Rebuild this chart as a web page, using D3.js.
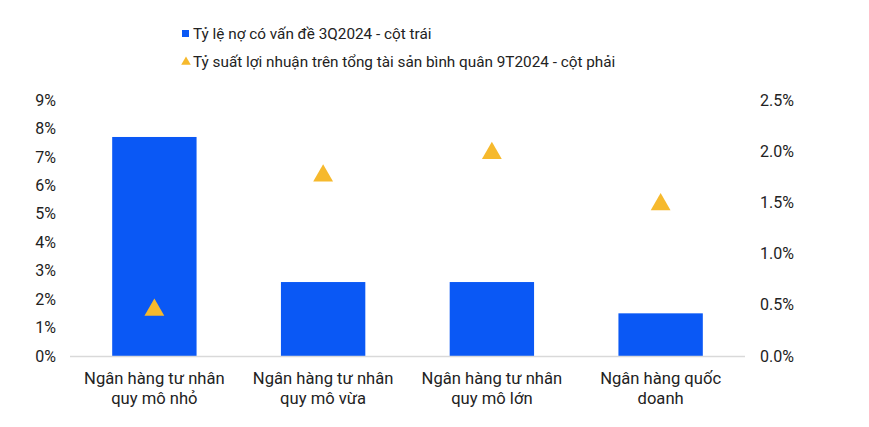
<!DOCTYPE html>
<html>
<head>
<meta charset="utf-8">
<script src="https://cdn.jsdelivr.net/npm/d3@7"></script>
<style>
  body { margin: 0; background: #fff; }
  text { font-family: Roboto, "Noto Sans", sans-serif; fill: #222; }
</style>
</head>
<body>
<svg width="869" height="427"></svg>
<script>
// chart data
var categories = [
  ["Ngân hàng tư nhân", "quy mô nhỏ"],
  ["Ngân hàng tư nhân", "quy mô vừa"],
  ["Ngân hàng tư nhân", "quy mô lớn"],
  ["Ngân hàng quốc", "doanh"]
];
var badDebt = [7.7, 2.6, 2.6, 1.5];     // left axis, %
var roa = [0.45, 1.76, 1.98, 1.48];     // right axis, %
var leftTicks = [0, 1, 2, 3, 4, 5, 6, 7, 8, 9];
var rightTicks = [0, 0.5, 1.0, 1.5, 2.0, 2.5];
var legendLabels = [
  "Tỷ lệ nợ có vấn đề 3Q2024 - cột trái",
  "Tỷ suất lợi nhuận trên tổng tài sản bình quân 9T2024 - cột phải"
];

var svg = d3.select("svg"),
    blue = "#0a58f5",
    gold = "#f6b92d",
    plotTop = 100, plotBottom = 356, plotLeft = 70, plotRight = 745;

var x = d3.scaleBand().domain(d3.range(categories.length)).range([plotLeft, plotRight]).paddingInner(0.5).paddingOuter(0.25);
var yL = d3.scaleLinear().domain([0, 9]).range([plotBottom, plotTop]);
var yR = d3.scaleLinear().domain([0, 2.5]).range([plotBottom, plotTop]);

// bars
svg.selectAll("rect.bar").data(badDebt).enter().append("rect")
   .attr("class", "bar")
   .attr("x", function(d, i) { return x(i); })
   .attr("y", function(d) { return yL(d); })
   .attr("width", x.bandwidth())
   .attr("height", function(d) { return plotBottom - yL(d); })
   .attr("fill", blue);

// baseline
svg.append("line").attr("x1", plotLeft).attr("x2", plotRight)
   .attr("y1", plotBottom + 0.5).attr("y2", plotBottom + 0.5)
   .attr("stroke", "#d9d9d9").attr("stroke-width", 1.5);

// left axis
var axL = svg.append("g").attr("transform", "translate(56,0)")
   .call(d3.axisLeft(yL).tickValues(leftTicks).tickSize(0).tickPadding(0)
     .tickFormat(function(d) { return d + "%"; }));
axL.select(".domain").remove();
axL.selectAll("text").style("font-size", "16px");

// right axis
var axR = svg.append("g").attr("transform", "translate(760,0)")
   .call(d3.axisRight(yR).tickValues(rightTicks).tickSize(0).tickPadding(0)
     .tickFormat(function(d) { return d.toFixed(1) + "%"; }));
axR.select(".domain").remove();
axR.selectAll("text").style("font-size", "16px");

// triangles
var tri = d3.symbol().type(d3.symbolTriangle).size(170);
svg.selectAll("path.roa").data(roa).enter().append("path")
   .attr("class", "roa")
   .attr("d", tri)
   .attr("transform", function(d, i) { return "translate(" + (x(i) + x.bandwidth() / 2) + "," + yR(d) + ")"; })
   .attr("fill", gold);

// category labels
var cat = svg.selectAll("text.cat").data(categories).enter().append("text")
   .attr("class", "cat")
   .attr("text-anchor", "middle")
   .style("font-size", "16.6px")
   .attr("x", function(d, i) { return x(i) + x.bandwidth() / 2; })
   .attr("y", 384);
cat.selectAll("tspan").data(function(d) { return d; }).enter().append("tspan")
   .attr("x", function() { return d3.select(this.parentNode).attr("x"); })
   .attr("dy", function(d, j) { return j ? 20 : 0; })
   .text(function(d) { return d; });

// legend
svg.append("rect").attr("x", 182).attr("y", 30).attr("width", 7).attr("height", 7).attr("fill", blue);
svg.append("path").attr("d", d3.symbol().type(d3.symbolTriangle).size(40))
   .attr("transform", "translate(186,62)").attr("fill", gold);
svg.selectAll("text.leg").data(legendLabels).enter().append("text")
   .attr("class", "leg")
   .attr("x", 193)
   .attr("y", function(d, i) { return 39 + i * 28; })
   .style("font-size", "15.3px")
   .text(function(d) { return d; });
</script>
</body>
</html>
